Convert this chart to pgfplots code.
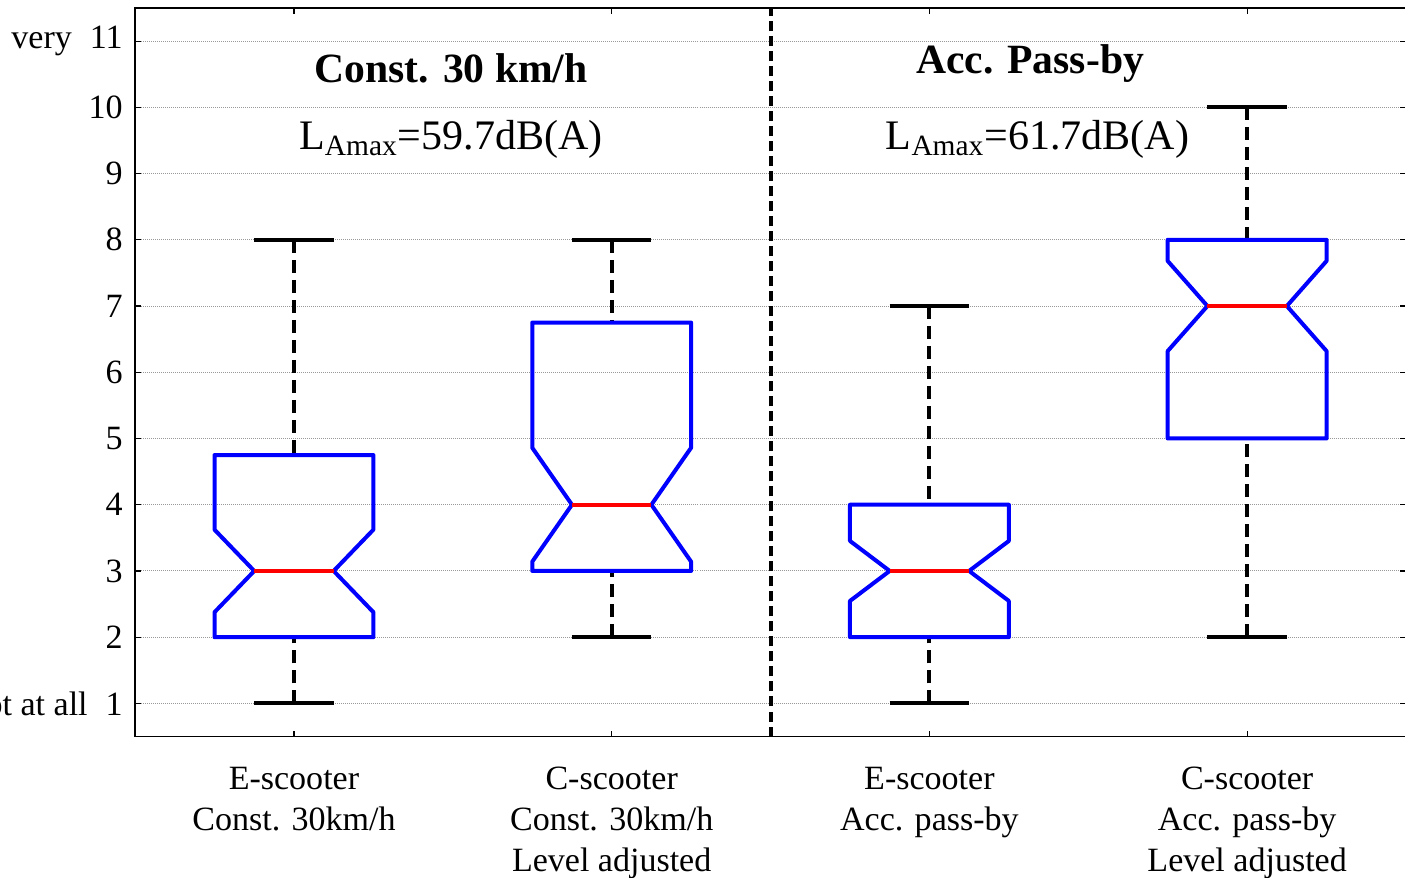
\documentclass[border=0pt]{standalone}
\usepackage{fontspec}
\setmainfont{Liberation Serif}
\usepackage{pgfplots}
\pgfplotsset{compat=1.18}
\definecolor{bblue}{RGB}{0,0,255}
\definecolor{rred}{RGB}{255,0,0}
\begin{document}
\begin{tikzpicture}
\begin{axis}[
  at={(0,0)}, anchor=south west,
  scale only axis, width=635pt, height=364pt,
  xmin=0.5, xmax=4.5, ymin=0.5, ymax=11.5,
  xtick={1,2,3,4},
  xticklabels={{E-scooter\\Const. 30km/h},{C-scooter\\Const. 30km/h\\Level adjusted},{E-scooter\\Acc. pass-by},{C-scooter\\Acc. pass-by\\Level adjusted}},
  ytick={1,2,3,4,5,6,7,8,9,10,11},
  yticklabels={{not at all\hspace{9pt}1},2,3,4,5,6,7,8,9,10,{very\hspace{9pt}11}},
  /pgf/number format/assume math mode=true,
  ticklabel style={font=\fontsize{17}{20.5}\selectfont},
  xticklabel style={align=center, inner sep=0pt, yshift=-15pt},
  yticklabel style={inner sep=0pt, xshift=-6pt},
  tick align=inside, major tick length=3pt,
  tick style={black, line width=0.6pt},
  xtick pos=both, ytick pos=both,
  ymajorgrids, xmajorgrids=false,
  major grid style={gray!80, line width=0.5pt, dash pattern=on 0.5pt off 0.5pt},
  axis line style={black, line width=0.8pt},
  clip=false,
]
% divider
\addplot[black, line width=2pt, dash pattern=on 5pt off 2.5pt] coordinates {(2.5,0.5) (2.5,11.5)};
% whiskers (dashed)
\addplot[black, line width=2pt, dash pattern=on 6.5pt off 3.5pt] coordinates {(1,8) (1,4.75)};
\addplot[black, line width=2pt, dash pattern=on 6.5pt off 3.5pt] coordinates {(1,1) (1,2)};
\addplot[black, line width=2pt, dash pattern=on 6.5pt off 3.5pt] coordinates {(2,8) (2,6.75)};
\addplot[black, line width=2pt, dash pattern=on 6.5pt off 3.5pt] coordinates {(2,2) (2,3)};
\addplot[black, line width=2pt, dash pattern=on 6.5pt off 3.5pt] coordinates {(3,7) (3,4)};
\addplot[black, line width=2pt, dash pattern=on 6.5pt off 3.5pt] coordinates {(3,1) (3,2)};
\addplot[black, line width=2pt, dash pattern=on 6.5pt off 3.5pt] coordinates {(4,10) (4,8)};
\addplot[black, line width=2pt, dash pattern=on 6.5pt off 3.5pt] coordinates {(4,2) (4,5)};
% caps
\addplot[black, line width=2pt] coordinates {(0.875,8) (1.125,8)};
\addplot[black, line width=2pt] coordinates {(0.875,1) (1.125,1)};
\addplot[black, line width=2pt] coordinates {(1.875,8) (2.125,8)};
\addplot[black, line width=2pt] coordinates {(1.875,2) (2.125,2)};
\addplot[black, line width=2pt] coordinates {(2.875,7) (3.125,7)};
\addplot[black, line width=2pt] coordinates {(2.875,1) (3.125,1)};
\addplot[black, line width=2pt] coordinates {(3.875,10) (4.125,10)};
\addplot[black, line width=2pt] coordinates {(3.875,2) (4.125,2)};
% notched boxes
\addplot[bblue, line width=2pt, line join=round] coordinates {(0.75,2) (0.75,2.377) (0.875,3) (0.75,3.623) (0.75,4.75) (1.25,4.75) (1.25,3.623) (1.125,3) (1.25,2.377) (1.25,2)} -- cycle;
\addplot[bblue, line width=2pt, line join=round] coordinates {(1.75,3) (1.75,3.14) (1.875,4) (1.75,4.86) (1.75,6.75) (2.25,6.75) (2.25,4.86) (2.125,4) (2.25,3.14) (2.25,3)} -- cycle;
\addplot[bblue, line width=2pt, line join=round] coordinates {(2.75,2) (2.75,2.547) (2.875,3) (2.75,3.453) (2.75,4) (3.25,4) (3.25,3.453) (3.125,3) (3.25,2.547) (3.25,2)} -- cycle;
\addplot[bblue, line width=2pt, line join=round] coordinates {(3.75,5) (3.75,6.32) (3.875,7) (3.75,7.68) (3.75,8) (4.25,8) (4.25,7.68) (4.125,7) (4.25,6.32) (4.25,5)} -- cycle;
% medians
\addplot[rred, line width=2pt] coordinates {(0.875,3) (1.125,3)};
\addplot[rred, line width=2pt] coordinates {(1.875,4) (2.125,4)};
\addplot[rred, line width=2pt] coordinates {(2.875,3) (3.125,3)};
\addplot[rred, line width=2pt] coordinates {(3.875,7) (4.125,7)};
% annotations
\node[anchor=base, font=\fontsize{20.8}{24}\selectfont\bfseries] at (axis cs:1.495,10.38) {Const. 30 km/h};
\node[anchor=base, font=\fontsize{20.8}{24}\selectfont\bfseries] at (axis cs:3.317,10.51) {Acc. Pass-by};
\node[anchor=base, font=\fontsize{21}{24}\selectfont] at (axis cs:1.494,9.37) {L\textsubscript{Amax}=59.7dB(A)};
\node[anchor=base, font=\fontsize{21}{24}\selectfont] at (axis cs:3.34,9.37) {L\textsubscript{Amax}=61.7dB(A)};
\end{axis}
\pgfresetboundingbox
\useasboundingbox (-67.5pt,-70.5pt) rectangle (634.5pt,368pt);
\end{tikzpicture}
\end{document}
